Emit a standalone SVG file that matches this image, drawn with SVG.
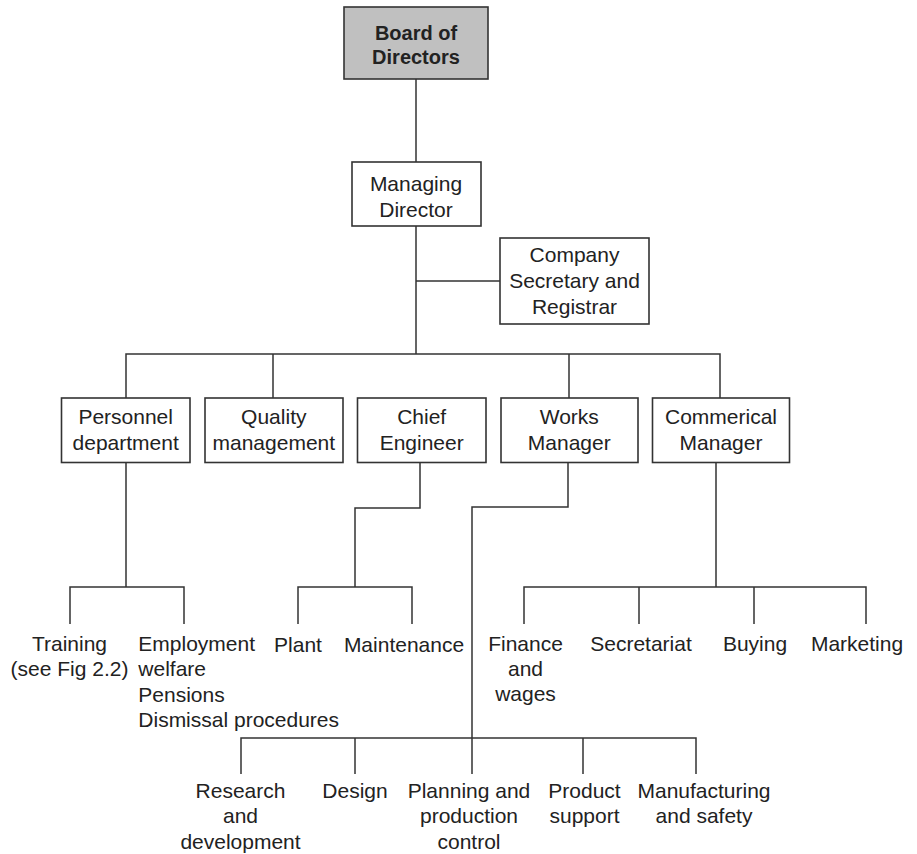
<svg xmlns="http://www.w3.org/2000/svg" width="917" height="854" viewBox="0 0 917 854">
<style>
.box{fill:#fff;stroke:#333;stroke-width:1.6}
.board{fill:#c0c0c0;stroke:#333;stroke-width:1.6}
.ln{fill:none;stroke:#333;stroke-width:1.5}
text{font-family:"Liberation Sans",Arial,sans-serif;font-size:21px;fill:#222;text-anchor:middle}
.b{font-weight:bold;font-size:20px}
.l{text-anchor:start}
</style>
<rect width="917" height="854" fill="#fff"/>
<g id="connectors">
<path class="ln" d="M416 79V162M416 226V354M416 281H500"/>
<path class="ln" d="M126 398V354H720V398M273 354V398M569 354V398"/>
<path class="ln" d="M126 462V587M70 624V587H184V624"/>
<path class="ln" d="M420 462V508H355V587M298 624V587H412V624"/>
<path class="ln" d="M716 462V587M524 624V587H866V624M639 587V624M754 587V624"/>
<path class="ln" d="M568 462V507H472V774M241 774V738H696V774M355 738V774M583 738V774"/>
</g>
<g id="board"><rect class="board" x="344" y="7" width="144" height="72"/><text class="b" x="416" y="40">Board of</text><text class="b" x="416" y="64">Directors</text></g>
<g id="md"><rect class="box" x="352" y="162" width="129" height="64"/><text x="416" y="191">Managing</text><text x="416" y="217">Director</text></g>
<g id="secretary"><rect class="box" x="500" y="238" width="149" height="86"/><text x="574.5" y="262">Company</text><text x="574.5" y="288">Secretary and</text><text x="574.5" y="314">Registrar</text></g>
<g id="personnel"><rect class="box" x="61.5" y="398" width="128.5" height="64.5"/><text x="125.7" y="424">Personnel</text><text x="125.7" y="449.5">department</text></g>
<g id="quality"><rect class="box" x="205" y="398" width="138" height="64.5"/><text x="273.8" y="424">Quality</text><text x="273.8" y="449.5">management</text></g>
<g id="chief"><rect class="box" x="357.5" y="398" width="128.5" height="64.5"/><text x="421.7" y="424">Chief</text><text x="421.7" y="449.5">Engineer</text></g>
<g id="works"><rect class="box" x="501" y="398" width="137" height="64.5"/><text x="569.3" y="424">Works</text><text x="569.3" y="449.5">Manager</text></g>
<g id="commercial"><rect class="box" x="652.5" y="398" width="137" height="64.5"/><text x="721" y="424">Commerical</text><text x="721" y="449.5">Manager</text></g>
<g id="training"><text x="69.5" y="651">Training</text><text x="69.5" y="676">(see Fig 2.2)</text></g>
<g id="employment"><text class="l" x="138.3" y="651">Employment</text><text class="l" x="138.3" y="676">welfare</text><text class="l" x="138.3" y="701.5">Pensions</text><text class="l" x="138.3" y="726.5">Dismissal procedures</text></g>
<g id="plant"><text x="298" y="651.5">Plant</text></g>
<g id="maintenance"><text x="404" y="651.5">Maintenance</text></g>
<g id="finance"><text x="525.5" y="651">Finance</text><text x="525.5" y="676">and</text><text x="525.5" y="701">wages</text></g>
<g id="secretariat"><text x="641" y="651">Secretariat</text></g>
<g id="buying"><text x="755" y="651">Buying</text></g>
<g id="marketing"><text x="857" y="651">Marketing</text></g>
<g id="research"><text x="240.5" y="797.5">Research</text><text x="240.5" y="823">and</text><text x="240.5" y="848.5">development</text></g>
<g id="design"><text x="355" y="798">Design</text></g>
<g id="planning"><text x="469" y="797.5">Planning and</text><text x="469" y="823">production</text><text x="469" y="848.5">control</text></g>
<g id="product"><text x="584.5" y="797.5">Product</text><text x="584.5" y="823">support</text></g>
<g id="manufacturing"><text x="704" y="797.5">Manufacturing</text><text x="704" y="823">and safety</text></g>
</svg>
